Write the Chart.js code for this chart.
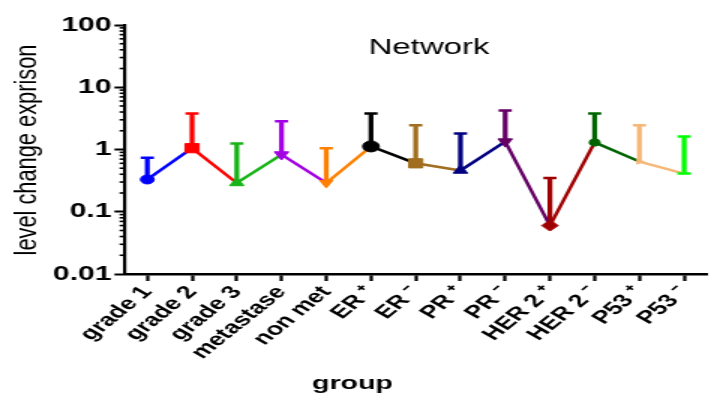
<!DOCTYPE html>
<html>
<head>
<meta charset="utf-8">
<script src="https://cdn.jsdelivr.net/npm/chart.js@4/dist/chart.umd.min.js"></script>
<style>
  html, body { margin: 0; padding: 0; background: #fff; overflow: hidden; }
  /* the plot is drawn narrow and widened horizontally */
  #wrap { width: 478px; height: 396px; transform: scaleX(1.5); transform-origin: 0 0; }
  canvas { display: block; }
</style>
</head>
<body>
<div id="wrap"><canvas id="c" width="478" height="396"></canvas></div>
<script>
// groups on the x axis
const groups = ['grade 1', 'grade 2', 'grade 3', 'metastase', 'non met',
  'ER \u207A', 'ER \u207B', 'PR \u207A', 'PR \u207B',
  'HER 2 \u207A', 'HER 2 \u207B', 'P53 \u207A', 'P53 \u207B'];

// mean level change per group
const levels = [0.33, 1.05, 0.29, 0.83, 0.29, 1.12, 0.60, 0.46, 1.34, 0.06, 1.30, 0.64, 0.41];

// upper end of the error bar per group
const upperErr = [0.74, 3.8, 1.25, 2.85, 1.05, 3.8, 2.45, 1.8, 4.25, 0.35, 3.8, 2.45, 1.62];

// y axis decades that carry a label
const yTickValues = [0.01, 0.1, 1, 10, 100];
const yTickLabels = ['0.01', '0.1', '1', '10', '100'];

const colors = ['#0000ff', '#ff0000', '#16b416', '#a400e4', '#ff8000',
  '#000000', '#a06e1e', '#000080', '#640064', '#a00000', '#006400', '#f5b878', '#00ff00'];
const markers = ['circle', 'rect', 'triangle', 'triangle', 'triangle',
  'circle', 'rect', 'triangle', 'triangle', 'rectRot', 'star', 'triangle', 'line'];
const markerRot = [0, 0, 0, 180, 180, 0, 0, 0, 180, 0, 0, 90, 0];
const markerSize = [4.5, 6.5, 5.5, 5.5, 5, 5.5, 6.5, 5.5, 5.5, 5.5, 4, 3, 4.5];
const markerBorder = [1, 1, 1, 1, 1, 1, 1, 1, 1, 1, 2.5, 1, 2.5];

const FONT = 'Liberation Sans, Arial, Helvetica, sans-serif';

// extra annotations: minor log ticks and the text titles
const decorations = {
  id: 'decorations',
  afterDraw(chart) {
    const { ctx, scales: { y }, chartArea } = chart;
    ctx.save();
    // minor ticks on the log axis
    ctx.strokeStyle = '#000';
    ctx.lineWidth = 1.6;
    for (let e = -2; e < 2; e++) {
      for (let d = 2; d <= 9; d++) {
        const py = y.getPixelForValue(d * Math.pow(10, e));
        ctx.beginPath();
        ctx.moveTo(chartArea.left - 3.6, py);
        ctx.lineTo(chartArea.left, py);
        ctx.stroke();
      }
    }
    ctx.fillStyle = '#000';
    ctx.textAlign = 'center';
    ctx.textBaseline = 'middle';
    // chart title
    ctx.font = '22px ' + FONT;
    ctx.fillText('Network', 286, 48);
    // x axis title
    ctx.font = 'bold 19px ' + FONT;
    ctx.fillText('group', 235, 384);
    // y axis title (rotated, drawn a little tall)
    ctx.translate(18.5, 150);
    ctx.rotate(-Math.PI / 2);
    ctx.scale(1.09, 1);
    ctx.font = '20px ' + FONT;
    ctx.fillText('level change exprison', 0, 0);
    ctx.restore();
  }
};

new Chart(document.getElementById('c'), {
  data: {
    labels: groups,
    datasets: [
      {
        type: 'line',
        data: levels,
        order: 0,
        borderWidth: 2.5,
        borderColor: colors[0],
        segment: { borderColor: c => colors[c.p0DataIndex] },
        pointStyle: markers,
        rotation: markerRot,
        pointRotation: markerRot,
        pointRadius: markerSize,
        pointBorderWidth: markerBorder,
        pointBackgroundColor: colors,
        pointBorderColor: colors,
        tension: 0
      },
      {
        type: 'line',
        data: upperErr,
        order: 1,
        showLine: false,
        pointStyle: 'line',
        pointRadius: 4.4,
        pointBorderWidth: 2.5,
        pointBorderColor: colors,
        pointBackgroundColor: colors
      },
      {
        type: 'bar',
        data: levels.map((v, i) => [v, upperErr[i]]),
        order: 2,
        backgroundColor: colors,
        borderWidth: 0,
        barThickness: 2.6
      }
    ]
  },
  options: {
    responsive: false,
    animation: false,
    events: [],
    layout: { padding: { top: 25, left: 0, right: 0, bottom: 0 } },
    plugins: { legend: { display: false }, title: { display: false }, tooltip: { enabled: false } },
    scales: {
      x: {
        type: 'category',
        offset: true,
        afterFit: s => { s.height = 122; },
        grid: { offset: false, drawOnChartArea: false, tickLength: 7, tickWidth: 2.2, tickColor: '#000' },
        border: { color: '#000', width: 2.4 },
        ticks: {
          autoSkip: false, minRotation: 50, maxRotation: 50, padding: 1,
          color: '#000', font: { family: FONT, size: 18, weight: 'bold' }
        }
      },
      y: {
        type: 'logarithmic',
        min: 0.01,
        max: 100,
        afterFit: s => { s.width = 83.3; },
        afterBuildTicks: s => { s.ticks = yTickValues.map(v => ({ value: v, major: true })); },
        grid: { drawOnChartArea: false, tickLength: 7, tickWidth: 2, tickColor: '#000' },
        border: { color: '#000', width: 2.2 },
        ticks: {
          padding: 2,
          color: '#000',
          font: { family: FONT, size: 20, weight: 'bold' },
          callback: v => yTickLabels[yTickValues.indexOf(v)] ?? ''
        }
      }
    }
  },
  plugins: [decorations]
});
</script>
</body>
</html>
